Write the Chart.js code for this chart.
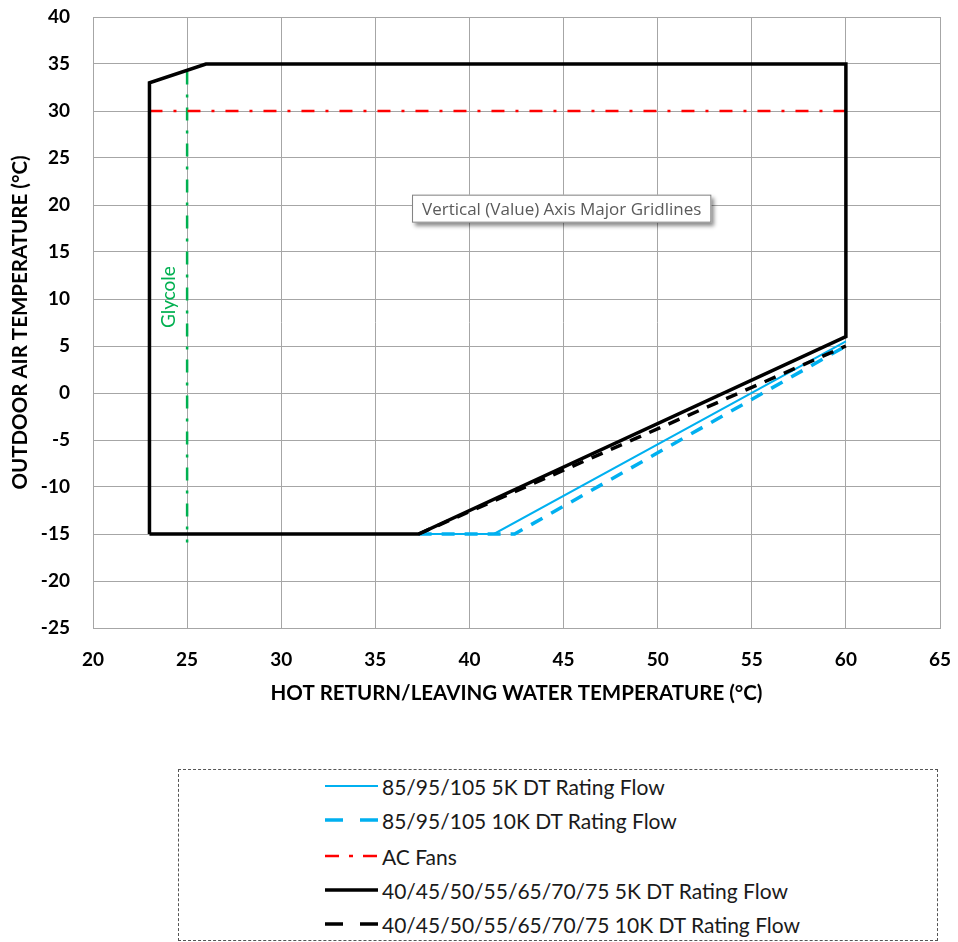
<!DOCTYPE html>
<html>
<head>
<meta charset="utf-8">
<script src="https://cdn.jsdelivr.net/npm/chart.js@4.4.1/dist/chart.umd.min.js"></script>
<style>
  body { margin: 0; background: #fff; width: 958px; height: 942px; position: relative; font-family: Lato, sans-serif; }
  #wrap { position: absolute; left: 0; top: 0; width: 958px; height: 704px; }
  #legend {
    position: absolute; left: 178px; top: 769px; width: 758px; height: 170px;
    border: 1px dashed #555; box-sizing: content-box;
  }
  .item { position: absolute; left: 146px; height: 30px; display: flex; align-items: center; }
  .item span { margin-left: 4px; font-size: 21px; color: #1a1a1a; white-space: nowrap; }
</style>
</head>
<body>
<div id="wrap"><canvas id="envelope" width="958" height="704"></canvas></div>
<div id="legend"></div>
<script>
// axis ranges / ticks
const xTicks = [20, 25, 30, 35, 40, 45, 50, 55, 60, 65];
const yTicks = [-25, -20, -15, -10, -5, 0, 5, 10, 15, 20, 25, 30, 35, 40];

// series (x = hot water temp, y = outdoor air temp)
const blue5X = [37.3, 41.3, 60];
const blue5Y = [-15, -15, 5.5];
const blue10X = [37.3, 42.4, 60];
const blue10Y = [-15, -15, 5];
const acFansX = [23, 60];
const acFansY = [30, 30];
const black5X = [23, 23, 26, 60, 60, 37.3, 23];
const black5Y = [-15, 33, 35, 35, 6, -15, -15];
const black10X = [37.3, 60];
const black10Y = [-15, 5];
const glycoleX = [25, 25];
const glycoleY = [34.2, -15.9];

// annotation anchors (data coords)
const glycoleLabel = { x: 24.05, y: 10.2, text: 'Glycole' };
const tipLabel = { x: 36.95, y: 21.1, text: 'Vertical (Value) Axis Major Gridlines' };

const pts = (xs, ys) => xs.map((x, i) => ({ x: x, y: ys[i] }));

const datasets = [
  { label: '85/95/105 5K DT Rating Flow', data: pts(blue5X, blue5Y), borderColor: '#00B0F0', borderWidth: 2, borderDash: [], legendDash: 'none', order: 6 },
  { label: '85/95/105 10K DT Rating Flow', data: pts(blue10X, blue10Y), borderColor: '#00B0F0', borderWidth: 3.5, borderDash: [13, 10], legendDash: '18,17', order: 5 },
  { label: 'AC Fans', data: pts(acFansX, acFansY), borderColor: '#FF0000', borderWidth: 2.5, borderDash: [13, 11, 3, 11], legendDash: '14,10,4,10', order: 3 },
  { label: '40/45/50/55/65/70/75 5K DT Rating Flow', data: pts(black5X, black5Y), borderColor: '#000', borderWidth: 3.5, borderDash: [], legendDash: 'none', order: 1 },
  { label: '40/45/50/55/65/70/75 10K DT Rating Flow', data: pts(black10X, black10Y), borderColor: '#000', borderWidth: 3.5, borderDash: [12, 9], legendDash: '18,17', order: 2 },
  { label: 'Glycole', data: pts(glycoleX, glycoleY), borderColor: '#00B050', borderWidth: 2.5, borderDash: [13, 10, 3, 10], order: 4, hideLegend: true }
];
datasets.forEach(d => { d.showLine = true; d.pointRadius = 0; d.fill = false; d.tension = 0; });

const annotations = {
  id: 'annotations',
  afterDatasetsDraw(chart) {
    const ctx = chart.ctx;
    const xs = chart.scales.x, ys = chart.scales.y;
    // Glycole label
    ctx.save();
    ctx.translate(xs.getPixelForValue(glycoleLabel.x), ys.getPixelForValue(glycoleLabel.y));
    ctx.rotate(-Math.PI / 2);
    ctx.fillStyle = '#00B050';
    ctx.font = '19px Lato';
    ctx.textAlign = 'center';
    ctx.textBaseline = 'middle';
    ctx.fillText(glycoleLabel.text, 0, 0);
    ctx.restore();

    // tooltip-like box
    const bx = xs.getPixelForValue(tipLabel.x), by = ys.getPixelForValue(tipLabel.y);
    ctx.save();
    ctx.font = '17px "Open Sans"';
    const w = ctx.measureText(tipLabel.text).width + 20;
    const h = 28;
    ctx.shadowColor = 'rgba(0,0,0,0.45)';
    ctx.shadowBlur = 4;
    ctx.shadowOffsetX = 3;
    ctx.shadowOffsetY = 3;
    ctx.fillStyle = '#fff';
    ctx.fillRect(bx, by, w, h);
    ctx.shadowColor = 'transparent';
    ctx.strokeStyle = '#808080';
    ctx.lineWidth = 1;
    ctx.strokeRect(bx + 0.5, by + 0.5, w - 1, h - 1);
    ctx.fillStyle = '#5a5a5a';
    ctx.textBaseline = 'middle';
    ctx.fillText(tipLabel.text, bx + 10, by + h / 2 + 1);
    ctx.restore();
  }
};

const gridColor = '#a6a6a6';
const tickFont = { family: 'Lato', size: 19, weight: 'bold' };

const chart = new Chart(document.getElementById('envelope'), {
  type: 'scatter',
  data: { datasets: datasets },
  options: {
    responsive: false,
    animation: false,
    devicePixelRatio: 1,
    layout: { padding: { top: 17, right: 18, left: 0, bottom: 0 } },
    plugins: { legend: { display: false }, tooltip: { enabled: false } },
    scales: {
      x: {
        type: 'linear', min: xTicks[0], max: xTicks[xTicks.length - 1],
        afterBuildTicks: s => { s.ticks = xTicks.map(v => ({ value: v })); },
        afterFit: s => { s.height = 76; s.paddingLeft = 0; s.paddingRight = 0; },
        ticks: { color: '#000', font: tickFont, padding: 20, maxRotation: 0 },
        grid: { color: gridColor, lineWidth: 1, drawTicks: false },
        border: { color: gridColor, width: 1 },
        title: { display: true, text: 'HOT RETURN/LEAVING WATER TEMPERATURE (°C)', color: '#000', font: { family: 'Lato', size: 20.5, weight: 'bold' }, padding: { top: 0, bottom: -1.5 } }
      },
      y: {
        type: 'linear', min: yTicks[0], max: yTicks[yTicks.length - 1],
        afterBuildTicks: s => { s.ticks = yTicks.map(v => ({ value: v })); },
        afterFit: s => { s.width = 93; s.paddingTop = 0; s.paddingBottom = 0; },
        ticks: { color: '#000', font: tickFont, padding: 23 },
        grid: { color: gridColor, lineWidth: 1, drawTicks: false },
        border: { color: gridColor, width: 1 },
        title: { display: true, text: 'OUTDOOR AIR TEMPERATURE (°C)', color: '#000', font: { family: 'Lato', size: 20.5, weight: 'bold' }, padding: { top: 8, bottom: 0 } }
      }
    }
  },
  plugins: [annotations]
});

// HTML legend built from the datasets
const legend = document.getElementById('legend');
const rowTops = [1, 35, 71, 105, 139];
datasets.filter(d => !d.hideLegend).forEach((d, i) => {
  const item = document.createElement('div');
  item.className = 'item';
  item.style.top = rowTops[i] + 'px';
  item.innerHTML =
    '<svg width="53" height="10"><line x1="0" y1="5" x2="53" y2="5" stroke="' + d.borderColor +
    '" stroke-width="' + d.borderWidth + '" stroke-dasharray="' + d.legendDash + '"/></svg><span>' + d.label + '</span>';
  legend.appendChild(item);
});
</script>
</body>
</html>
